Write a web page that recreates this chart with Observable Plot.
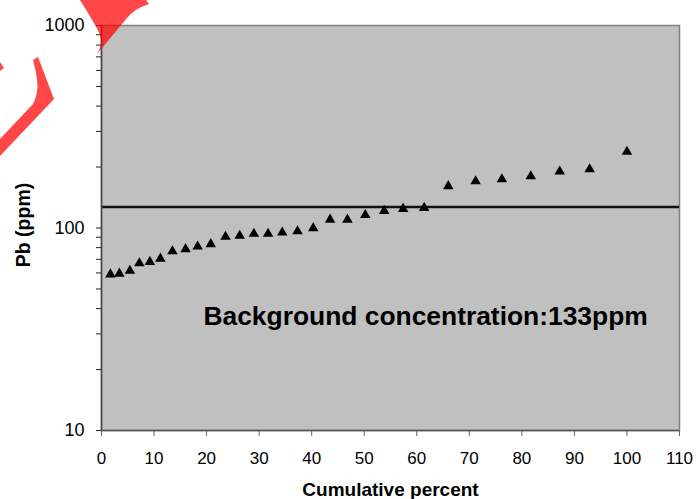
<!DOCTYPE html>
<html>
<head>
<meta charset="utf-8">
<script src="https://cdn.jsdelivr.net/npm/d3@7"></script>
<script src="https://cdn.jsdelivr.net/npm/@observablehq/plot@0.6"></script>
<style>
  html, body { margin: 0; padding: 0; background: #ffffff; }
</style>
</head>
<body>
<script>
// ---- data ----
const cumPercent = [1.7, 3.4, 5.4, 7.2, 9.2, 11.2, 13.5, 16, 18.3, 20.8, 23.6, 26.3, 29, 31.7, 34.4, 37.3, 40.3, 43.5, 46.8, 50.2, 53.8, 57.4, 61.4, 66, 71.2, 76.2, 81.7, 87.2, 92.9, 100];
const pbPpm = [59, 59.5, 61.5, 67, 68, 70.6, 76.7, 78.6, 81, 83.2, 90.5, 91.5, 93.6, 93.6, 95, 96.4, 99.8, 110, 110, 116, 121.5, 124.3, 125.7, 161, 170, 174, 180, 190, 195, 238];
const backgroundLine = [127];
const xTicks = [0, 10, 20, 30, 40, 50, 60, 70, 80, 90, 100, 110];
const yMajorTicks = [10, 100, 1000];
const yMinorTicks = [20, 30, 40, 50, 60, 70, 80, 90, 200, 300, 400, 500, 600, 700, 800, 900];
const annotation = ["Background concentration:133ppm"];
const xLabel = ["Cumulative percent"];
const yLabel = ["Pb (ppm)"];

const points = cumPercent.map((x, i) => ({x, y: pbPpm[i]}));

const chart = Plot.plot({
  width: 697,
  height: 499,
  marginLeft: 101,
  marginRight: 18,
  marginTop: 25,
  marginBottom: 69,
  style: {fontFamily: "'Liberation Sans', Arial, sans-serif", fontSize: "17px", background: "#ffffff", color: "#000"},
  x: {domain: [0, 110]},
  y: {type: "log", domain: [10, 1000]},
  marks: [
    Plot.frame({fill: "#c0c0c0", stroke: "#808080", strokeWidth: 1.5}),
    Plot.ruleY(backgroundLine, {stroke: "#111", strokeWidth: 2.5}),
    Plot.dot(points, {x: "x", y: "y", symbol: "triangle", r: 3.9, fill: "#000", stroke: null}),
    Plot.text(annotation, {x: 19.4, y: 36.4, text: d => d, textAnchor: "start", fontSize: 26.4, fontWeight: "bold", fill: "#000"}),
    Plot.axisX({ticks: xTicks, tickSize: 6, tickPadding: 15, stroke: "#666", fill: "#000", fontSize: 17, label: null}),
    Plot.ruleY([10], {stroke: "#555", strokeWidth: 1.5}),
    Plot.axisY({ticks: yMajorTicks, tickFormat: d => String(d), tickSize: 5, tickPadding: 12, stroke: "#222", fill: "#000", fontSize: 18, label: null}),
    Plot.axisY({ticks: yMinorTicks, tickFormat: () => "", tickSize: 5, stroke: "#222", label: null}),
    Plot.ruleX([0], {stroke: "#444", strokeWidth: 1.5}),
    Plot.text(xLabel, {frameAnchor: "bottom", textAnchor: "middle", lineAnchor: "middle", dy: 59, text: d => d, fontSize: 19, fontWeight: "bold", fill: "#000"}),
    Plot.text(yLabel, {frameAnchor: "left", textAnchor: "middle", lineAnchor: "middle", dx: -78, dy: -3, rotate: -90, text: d => d, fontSize: 19.5, fontWeight: "bold", fill: "#000"})
  ]
});

document.body.appendChild(chart);

// decorative red watermark fragments visible in the reference
const svg = d3.select(chart);
const wm = svg.append("g").attr("fill", "#ff0000").attr("fill-opacity", 0.72);
wm.append("path").attr("d", "M80,0 L146,0 L149,4 Q134,9 127,18 L97,54 Q103,45 100,35 Q97,27 80,0 Z");
wm.append("path").attr("d", "M33,60 L38,57 L54,99 L0,156 L0,139 L33,104 Q39,92 37,80 Q36,70 33,60 Z");
wm.append("path").attr("d", "M0,62 L4,68 L0,71 Z");
</script>
</body>
</html>
